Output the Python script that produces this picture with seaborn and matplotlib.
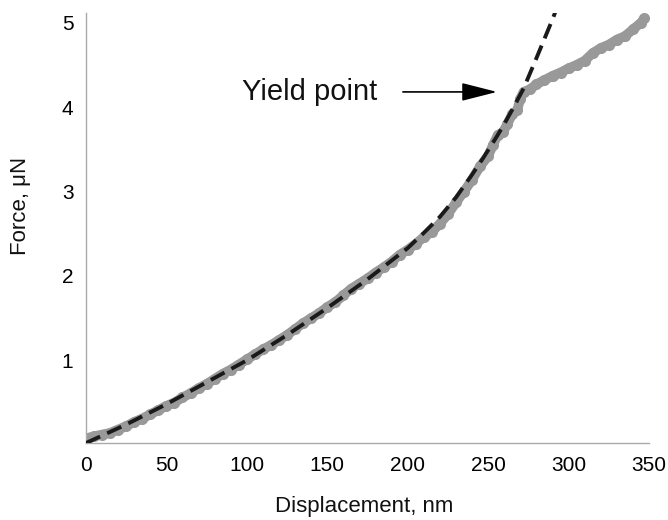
import numpy as np
import pandas as pd
import matplotlib
matplotlib.use("Agg")
import matplotlib.pyplot as plt
import seaborn as sns

disp_nm = [1, 5, 10, 15, 20, 25, 30, 35, 40, 45, 50, 55, 60, 65, 70, 75, 80, 85, 90, 95,
           100, 105, 110, 115, 120, 125, 130, 135, 140, 145, 150, 155, 160, 165, 170, 175,
           180, 185, 190, 195, 200, 205, 210, 215, 220, 225, 230, 235, 240, 245, 250, 253,
           256, 259, 262, 265, 268, 270, 272, 276, 280, 285, 290, 295, 300, 305, 310, 315,
           320, 325, 330, 335, 340, 345, 347]
force_uN = [0.08, 0.10, 0.12, 0.14, 0.18, 0.22, 0.27, 0.31, 0.36, 0.41, 0.46, 0.50, 0.56,
            0.61, 0.67, 0.72, 0.78, 0.84, 0.89, 0.95, 1.01, 1.07, 1.13, 1.18, 1.24, 1.30,
            1.37, 1.44, 1.50, 1.56, 1.63, 1.69, 1.77, 1.85, 1.91, 1.97, 2.04, 2.10, 2.17,
            2.25, 2.31, 2.38, 2.46, 2.52, 2.62, 2.73, 2.87, 3.00, 3.14, 3.30, 3.42, 3.55,
            3.67, 3.70, 3.80, 3.92, 3.96, 4.10, 4.18, 4.21, 4.27, 4.32, 4.37, 4.41, 4.46,
            4.50, 4.55, 4.64, 4.70, 4.74, 4.80, 4.84, 4.92, 5.00, 5.05]

# Fitted (dashed) curve
fit_disp = [0, 25, 50, 75, 100, 125, 150, 175, 200, 210, 220, 230, 240, 247, 255, 260,
            265, 272, 280, 285, 290, 292]
fit_force = [0.02, 0.24, 0.48, 0.74, 1.00, 1.30, 1.62, 1.96, 2.33, 2.51, 2.70, 2.93, 3.20,
             3.40, 3.64, 3.80, 3.97, 4.22, 4.58, 4.81, 5.04, 5.14]

x_ticks = [0, 50, 100, 150, 200, 250, 300, 350]
y_ticks = [1, 2, 3, 4, 5]
annotation_text = "Yield point"

sns.set_style("white")
plt.rcParams['font.family'] = ['Liberation Sans', 'DejaVu Sans']

data = pd.DataFrame({"disp": disp_nm, "force": force_uN})
fit = pd.DataFrame({"disp": fit_disp, "force": fit_force})

fig = plt.figure(figsize=(6.68, 5.2), dpi=100)
ax = fig.add_axes([0.1287, 0.148, 0.8429, 0.827])

gray = "#999999"
sns.lineplot(data=data, x="disp", y="force", ax=ax, color=gray, lw=7,
             marker="o", markersize=8, markeredgewidth=0, solid_capstyle="round",
             solid_joinstyle="round", zorder=2)
sns.lineplot(data=fit, x="disp", y="force", ax=ax, color="#1a1a1a", lw=2.8,
             zorder=3)
ax.lines[-1].set_dashes((4.0, 2.0))

ax.set_xlim(0, 350)
ax.set_ylim(0.02, 5.115)
ax.set_xticks(x_ticks)
ax.set_yticks(y_ticks)
ax.set_xticklabels([str(t) for t in x_ticks])
ax.set_yticklabels([str(t) for t in y_ticks])

for s in ["top", "right"]:
    ax.spines[s].set_visible(False)
for s in ["left", "bottom"]:
    ax.spines[s].set_color("#aaaaaa")
    ax.spines[s].set_linewidth(1.0)

ax.tick_params(axis="both", which="major", direction="out", length=5, width=1,
               color="#aaaaaa", labelsize=15, labelcolor="black", pad=4)

ax.set_xlabel("Displacement, nm", fontsize=16, color="#111111")
ax.set_ylabel("Force, \u03bcN", fontsize=16, color="#111111")
ax.xaxis.set_label_coords(0.495, -0.124)
ax.yaxis.set_label_coords(-0.098, 0.551)

ax.text(97, 4.18, annotation_text, fontsize=21, color="#111111",
        va="center", ha="left", zorder=5)
ax.annotate("", xy=(255.5, 4.18), xytext=(197, 4.18),
            arrowprops=dict(arrowstyle="-|>,head_length=1.1,head_width=0.28",
                            color="black", lw=1.2, mutation_scale=20,
                            shrinkA=0, shrinkB=0),
            zorder=5)

fig.savefig("out.png", dpi=100)
